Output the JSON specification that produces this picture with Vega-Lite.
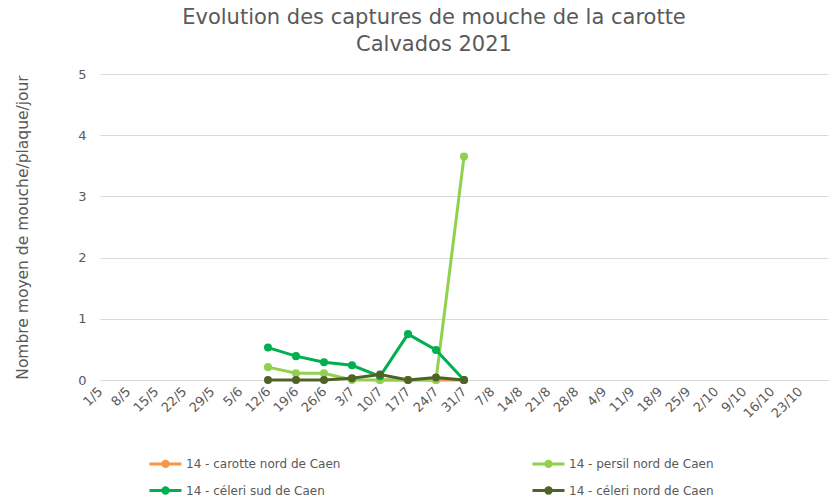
{
  "$schema": "https://vega.github.io/schema/vega-lite/v6.json",
  "width": 728,
  "height": 306,
  "autosize": "none",
  "padding": {"left": 100, "top": 74, "right": 9, "bottom": 121},
  "background": "white",
  "title": {
    "text": ["Evolution des captures de mouche de la carotte", "Calvados 2021"],
    "font": "DejaVu Sans",
    "fontSize": 21,
    "fontWeight": "normal",
    "color": "#595959",
    "anchor": "middle",
    "dx": -30,
    "offset": 13,
    "lineHeight": 27
  },
  "config": {
    "view": {"stroke": null},
    "font": "DejaVu Sans"
  },
  "data": {
    "values": [
      {"date": "10/7", "serie": "14 - carotte  nord de Caen", "value": 0},
      {"date": "17/7", "serie": "14 - carotte  nord de Caen", "value": 0},
      {"date": "24/7", "serie": "14 - carotte  nord de Caen", "value": 0},
      {"date": "31/7", "serie": "14 - carotte  nord de Caen", "value": 0},
      {"date": "12/6", "serie": "14 - persil nord de Caen", "value": 0.21},
      {"date": "19/6", "serie": "14 - persil nord de Caen", "value": 0.11},
      {"date": "26/6", "serie": "14 - persil nord de Caen", "value": 0.11},
      {"date": "3/7", "serie": "14 - persil nord de Caen", "value": 0.0},
      {"date": "10/7", "serie": "14 - persil nord de Caen", "value": 0.0},
      {"date": "17/7", "serie": "14 - persil nord de Caen", "value": 0.0},
      {"date": "24/7", "serie": "14 - persil nord de Caen", "value": 0.0},
      {"date": "31/7", "serie": "14 - persil nord de Caen", "value": 3.65},
      {"date": "12/6", "serie": "14 - céleri sud de Caen", "value": 0.53},
      {"date": "19/6", "serie": "14 - céleri sud de Caen", "value": 0.39},
      {"date": "26/6", "serie": "14 - céleri sud de Caen", "value": 0.29},
      {"date": "3/7", "serie": "14 - céleri sud de Caen", "value": 0.24},
      {"date": "10/7", "serie": "14 - céleri sud de Caen", "value": 0.06},
      {"date": "17/7", "serie": "14 - céleri sud de Caen", "value": 0.75},
      {"date": "24/7", "serie": "14 - céleri sud de Caen", "value": 0.49},
      {"date": "31/7", "serie": "14 - céleri sud de Caen", "value": 0.0},
      {"date": "12/6", "serie": "14 - céleri nord de Caen", "value": 0.0},
      {"date": "19/6", "serie": "14 - céleri nord de Caen", "value": 0.0},
      {"date": "26/6", "serie": "14 - céleri nord de Caen", "value": 0.0},
      {"date": "3/7", "serie": "14 - céleri nord de Caen", "value": 0.03},
      {"date": "10/7", "serie": "14 - céleri nord de Caen", "value": 0.09},
      {"date": "17/7", "serie": "14 - céleri nord de Caen", "value": 0.0},
      {"date": "24/7", "serie": "14 - céleri nord de Caen", "value": 0.04},
      {"date": "31/7", "serie": "14 - céleri nord de Caen", "value": 0.0}
    ]
  },
  "mark": {"type": "line", "strokeWidth": 3, "point": {"filled": true, "size": 65, "opacity": 1}},
  "encoding": {
    "x": {
      "field": "date",
      "type": "ordinal",
      "sort": null,
      "scale": {
        "type": "point",
        "padding": 0,
        "domain": ["1/5", "8/5", "15/5", "22/5", "29/5", "5/6", "12/6", "19/6", "26/6", "3/7", "10/7", "17/7", "24/7", "31/7", "7/8", "14/8", "21/8", "28/8", "4/9", "11/9", "18/9", "25/9", "2/10", "9/10", "16/10", "23/10", " "]
      },
      "axis": {
        "title": null,
        "labelAngle": -45,
        "labelAlign": "right",
        "labelBaseline": "middle",
        "labelFontSize": 13,
        "labelColor": "#595959",
        "labelPadding": 9,
        "ticks": false,
        "domain": true,
        "domainColor": "#D9D9D9",
        "grid": false
      }
    },
    "y": {
      "field": "value",
      "type": "quantitative",
      "scale": {"domain": [0, 5]},
      "axis": {
        "title": "Nombre moyen de mouche/plaque/jour",
        "titleFont": "DejaVu Sans",
        "titleFontSize": 15.5,
        "titleFontWeight": "normal",
        "titleColor": "#595959",
        "titlePadding": 47,
        "values": [0, 1, 2, 3, 4, 5],
        "labelFontSize": 13,
        "labelColor": "#595959",
        "labelPadding": 14,
        "ticks": false,
        "domain": false,
        "gridColor": "#D9D9D9",
        "gridWidth": 1
      }
    },
    "color": {
      "field": "serie",
      "type": "nominal",
      "scale": {
        "domain": ["14 - carotte  nord de Caen", "14 - céleri sud de Caen", "14 - persil nord de Caen", "14 - céleri nord de Caen"],
        "range": ["#F79646", "#00B050", "#92D050", "#4F6228"]
      },
      "legend": {
        "title": null,
        "orient": "none",
        "legendX": 48,
        "legendY": 372,
        "columns": 2,
        "columnPadding": 181,
        "rowPadding": -1,
        "padding": 0,
        "symbolType": "M-1,0H1M-0.17,0A0.17,0.17 0 1,0 0.17,0A0.17,0.17 0 1,0 -0.17,0",
        "symbolSize": 1024,
        "symbolStrokeWidth": 3,
        "labelFontSize": 12,
        "labelColor": "#595959",
        "labelOffset": 3,
        "labelLimit": 400
      }
    }
  }
}
